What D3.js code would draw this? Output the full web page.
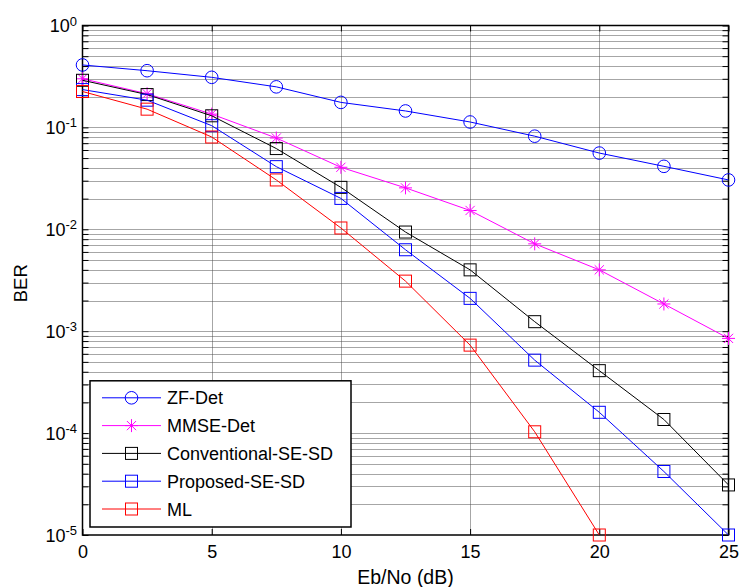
<!DOCTYPE html>
<html>
<head>
<meta charset="utf-8">
<script src="https://cdn.jsdelivr.net/npm/d3@7"></script>
<style>
  body { margin: 0; background: #fff; }
  svg { display: block; }
  text { font-family: "Liberation Sans", Arial, Helvetica, sans-serif; fill: #000; }
</style>
</head>
<body>
<script>
// Eb/No sample points (dB)
const ebno = [0, 2.5, 5, 7.5, 10, 12.5, 15, 17.5, 20, 22.5, 25];

// BER per detector
const zfDet    = [0.41, 0.36, 0.31, 0.25, 0.176, 0.145, 0.113, 0.082, 0.056, 0.0415, 0.0305];
const mmseDet  = [0.30, 0.214, 0.135, 0.0787, 0.0406, 0.0255, 0.0153, 0.0072, 0.0040, 0.00185, 0.00085];
const convSD   = [0.29, 0.21, 0.13, 0.062, 0.0258, 0.0094, 0.0040, 0.00124, 0.00041, 0.000136, 0.000031];
const propSD   = [0.235, 0.185, 0.104, 0.0412, 0.0201, 0.0063, 0.0021, 0.00052, 0.00016, 0.000042, 0.00001];
const mlDet    = [0.225, 0.151, 0.0805, 0.0305, 0.0103, 0.0031, 0.00073, 0.000103, 0.00001];

const seriesNames  = ["ZF-Det", "MMSE-Det", "Conventional-SE-SD", "Proposed-SE-SD", "ML"];
const seriesValues = [zfDet, mmseDet, convSD, propSD, mlDet];
const seriesColors = ["#0000ff", "#ff00ff", "#000000", "#0000ff", "#ff0000"];
const seriesMarkers = ["circle", "star", "square", "square", "square"];

// Axis ticks
const xTickValues = [0, 5, 10, 15, 20, 25];
const yExponents  = [-5, -4, -3, -2, -1, 0];

const W = 739, H = 587;
const plot = { left: 82.5, right: 728.5, top: 25.5, bottom: 535 };

const svg = d3.select("body").append("svg")
  .attr("width", W).attr("height", H);

svg.append("rect").attr("width", W).attr("height", H).attr("fill", "#fff");

const x = d3.scaleLinear().domain([0, 25]).range([plot.left, plot.right]);
const y = d3.scaleLog().domain([1e-5, 1]).range([plot.bottom, plot.top]);

const yMajor = yExponents.map(e => Math.pow(10, e));
const yMinor = [];
yExponents.slice(0, -1).forEach(e => {
  for (let m = 2; m <= 9; m++) yMinor.push(m * Math.pow(10, e));
});

// Dotted grid
const grid = svg.append("g").attr("class", "grid")
  .attr("stroke", "#4d4d4d").attr("stroke-width", 1)
  .attr("stroke-dasharray", "1,1").attr("fill", "none");

grid.selectAll("line.h")
  .data(yMinor.concat(yMajor.slice(1, -1)))
  .join("line").attr("class", "h")
  .attr("x1", plot.left).attr("x2", plot.right)
  .attr("y1", d => Math.round(y(d)) + 0.5).attr("y2", d => Math.round(y(d)) + 0.5);

grid.selectAll("line.v")
  .data(xTickValues.slice(1, -1))
  .join("line").attr("class", "v")
  .attr("y1", plot.top).attr("y2", plot.bottom)
  .attr("x1", d => Math.round(x(d)) + 0.5).attr("x2", d => Math.round(x(d)) + 0.5);

// Axes with inward ticks on all four sides
const tickLen = 6;
function styleAxis(g) {
  g.select(".domain").remove();
  g.selectAll(".tick line").attr("stroke", "#000").attr("stroke-width", 1);
}

svg.append("g").attr("transform", `translate(0,${plot.bottom})`)
  .call(d3.axisBottom(x).tickValues(xTickValues).tickSize(-tickLen).tickSizeOuter(0).tickPadding(10))
  .call(styleAxis)
  .call(g => g.selectAll(".tick text").attr("font-size", 18).attr("font-family", null));

svg.append("g").attr("transform", `translate(0,${plot.top})`)
  .call(d3.axisTop(x).tickValues(xTickValues).tickSize(-tickLen).tickSizeOuter(0).tickFormat(""))
  .call(styleAxis);

const leftAxis = svg.append("g").attr("transform", `translate(${plot.left},0)`)
  .call(d3.axisLeft(y).tickValues(yMajor.concat(yMinor)).tickSize(-tickLen).tickSizeOuter(0).tickFormat(""))
  .call(styleAxis);

svg.append("g").attr("transform", `translate(${plot.right},0)`)
  .call(d3.axisRight(y).tickValues(yMajor.concat(yMinor)).tickSize(-tickLen).tickSizeOuter(0).tickFormat(""))
  .call(styleAxis);

// Power-of-ten tick labels
const yLabels = svg.append("g").selectAll("text")
  .data(yExponents).join("text")
  .attr("x", plot.left - 5.5)
  .attr("y", e => y(Math.pow(10, e)) + 6.5)
  .attr("text-anchor", "end")
  .attr("font-size", 18);
yLabels.append("tspan").text("10");
yLabels.append("tspan").attr("font-size", 13).attr("dy", -6.5).text(e => String(e));

// Box
svg.append("rect")
  .attr("x", plot.left).attr("y", plot.top)
  .attr("width", plot.right - plot.left).attr("height", plot.bottom - plot.top)
  .attr("fill", "none").attr("stroke", "#000").attr("stroke-width", 1.5);

// Axis titles
svg.append("text")
  .attr("x", (plot.left + plot.right) / 2).attr("y", 584)
  .attr("text-anchor", "middle").attr("font-size", 19.5)
  .text("Eb/No (dB)");

svg.append("text")
  .attr("transform", `translate(27,${(plot.top + plot.bottom) / 2 + 3}) rotate(-90)`)
  .attr("text-anchor", "middle").attr("font-size", 18.5)
  .text("BER");

// Marker drawing
function drawMarker(sel, type, color) {
  if (type === "circle") {
    sel.append("circle").attr("r", 6.3).attr("fill", "none").attr("stroke", color).attr("stroke-width", 1);
  } else if (type === "square") {
    sel.append("rect").attr("x", -6).attr("y", -6).attr("width", 12).attr("height", 12)
      .attr("fill", "none").attr("stroke", color).attr("stroke-width", 1);
  } else if (type === "star") {
    const r = 6.5, d = 4.6;
    sel.append("path")
      .attr("d", `M${-r},0H${r}M0,${-r}V${r}M${-d},${-d}L${d},${d}M${-d},${d}L${d},${-d}`)
      .attr("fill", "none").attr("stroke", color).attr("stroke-width", 1);
  }
}

const line = d3.line().x(d => x(d[0])).y(d => y(d[1]));

seriesValues.forEach((vals, i) => {
  const pts = vals.map((v, k) => [ebno[k], v]);
  const g = svg.append("g").attr("class", "series");
  g.append("path").datum(pts)
    .attr("d", line).attr("fill", "none")
    .attr("stroke", seriesColors[i]).attr("stroke-width", 1);
  g.selectAll("g.mk").data(pts).join("g").attr("class", "mk")
    .attr("transform", d => `translate(${x(d[0])},${y(d[1])})`)
    .each(function () { drawMarker(d3.select(this), seriesMarkers[i], seriesColors[i]); });
});

// Legend in the lower-left corner
const legend = { left: plot.left + 7.5, bottom: plot.bottom - 8, width: 261, rowH: 27.8, pad: 17 };
const legendH = legend.pad * 2 + legend.rowH * (seriesNames.length - 1) + 1;
const lg = svg.append("g").attr("transform", `translate(${legend.left},${legend.bottom - legendH})`);
lg.append("rect").attr("width", legend.width).attr("height", legendH)
  .attr("fill", "#fff").attr("stroke", "#000").attr("stroke-width", 1.5);

seriesNames.forEach((name, i) => {
  const row = lg.append("g").attr("transform", `translate(0,${legend.pad + i * legend.rowH})`);
  row.append("line").attr("x1", 12).attr("x2", 71).attr("y1", 0).attr("y2", 0)
    .attr("stroke", seriesColors[i]).attr("stroke-width", 1);
  const mk = row.append("g").attr("transform", "translate(41.5,0)");
  drawMarker(mk, seriesMarkers[i], seriesColors[i]);
  row.append("text").attr("x", 77).attr("y", 6.5).attr("font-size", 18).text(name);
});
</script>
</body>
</html>
